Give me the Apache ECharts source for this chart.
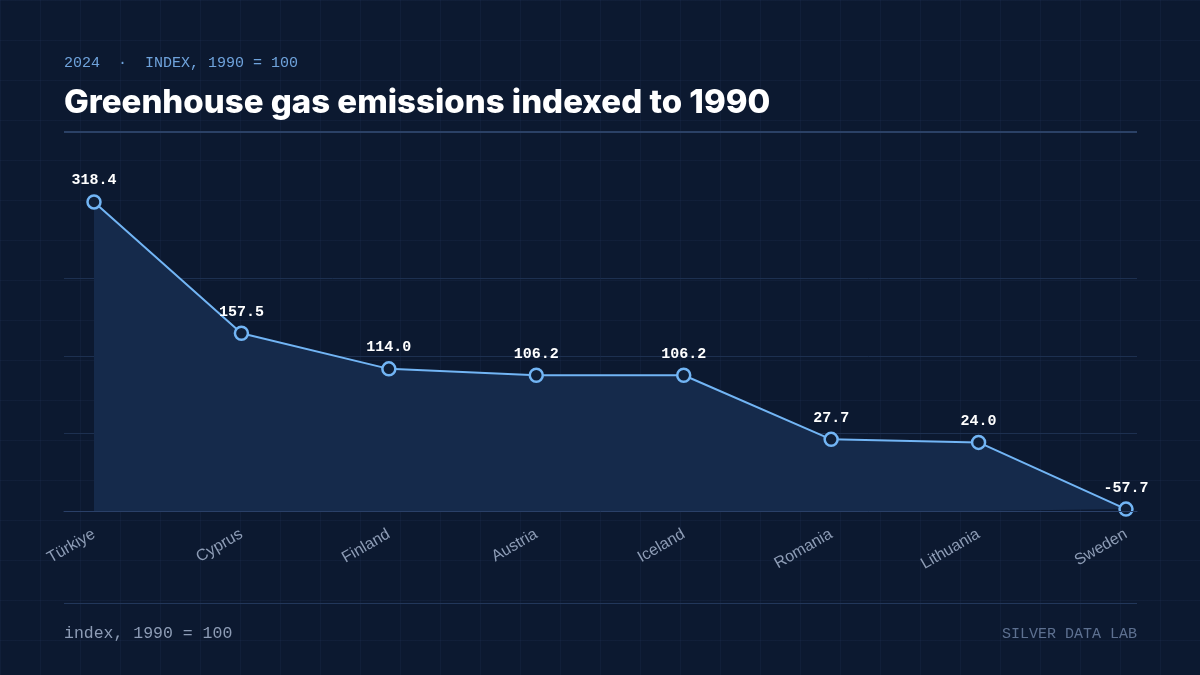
<!DOCTYPE html>
<html>
<head>
<meta charset="utf-8">
<script src="https://cdn.jsdelivr.net/npm/echarts@6/dist/echarts.min.js"></script>
<style>
  html, body { margin: 0; padding: 0; }
  body {
    width: 1200px; height: 675px; overflow: hidden;
    background-color: #0c1930;
    background-image:
      linear-gradient(to right, rgba(40,62,100,0.18) 1px, transparent 1px),
      linear-gradient(to bottom, rgba(40,62,100,0.18) 1px, transparent 1px);
    background-size: 40px 40px;
    background-position: 0 0;
  }
  #chart { width: 1200px; height: 675px; }
</style>
</head>
<body>
<div id="chart"></div>
<script>
const categories = ['Türkiye', 'Cyprus', 'Finland', 'Austria', 'Iceland', 'Romania', 'Lithuania', 'Sweden'];
const values = [318.4, 157.5, 114.0, 106.2, 106.2, 27.7, 24.0, -57.7];
const kicker = '2024  ·  INDEX, 1990 = 100';
const heading = 'Greenhouse gas emissions indexed to 1990';
const footNote = 'index, 1990 = 100';
const credit = 'SILVER DATA LAB';

const chart = echarts.init(document.getElementById('chart'), null, { renderer: 'canvas' });

const option = {
  backgroundColor: 'transparent',
  animation: false,
  title: [
    {
      text: kicker, left: 64, top: 56, padding: 0,
      textStyle: { fontFamily: 'Liberation Mono', fontSize: 15, fontWeight: 'normal', color: '#6fa3dc' }
    },
    {
      text: heading, left: 64, top: 87, padding: 0,
      textStyle: { fontFamily: 'Inter', fontSize: 33, fontWeight: 800, color: '#ffffff' }
    }
  ],
  graphic: [
    { type: 'rect', shape: { x: 64, y: 131, width: 1073, height: 2 }, style: { fill: '#2b4166' }, silent: true },
    { type: 'rect', shape: { x: 64, y: 603, width: 1073, height: 1 }, style: { fill: '#22375a' }, silent: true },
    { type: 'text', left: 64, top: 625, style: { text: footNote, font: '16.5px "Liberation Mono"', fill: '#8d9cb5' } },
    { type: 'text', right: 63, top: 627, style: { text: credit, font: '15px "Liberation Mono"', fill: '#5d7090' } }
  ],
  grid: [
    { left: 94, right: 74, top: 201, bottom: 164 },
    { left: 64, right: 63, top: 201, bottom: 164 }
  ],
  xAxis: [
    {
      type: 'category', gridIndex: 0, data: categories, boundaryGap: false,
      axisLine: { show: false }, axisTick: { show: false }, splitLine: { show: false },
      axisLabel: { rotate: 30, margin: 22, color: '#8d9cb5', fontFamily: 'Liberation Sans', fontSize: 16 }
    },
    {
      type: 'value', gridIndex: 1, min: 0, max: 1, z: 5,
      axisLine: { show: true, lineStyle: { color: '#2a4068', width: 1 } },
      axisTick: { show: false }, axisLabel: { show: false }, splitLine: { show: false }
    }
  ],
  yAxis: [
    {
      type: 'value', gridIndex: 0, min: -60, max: 319.5,
      axisLine: { show: false }, axisTick: { show: false }, axisLabel: { show: false }, splitLine: { show: false }
    },
    {
      type: 'value', gridIndex: 1, min: 0, max: 4, interval: 1,
      axisLine: { show: false }, axisTick: { show: false }, axisLabel: { show: false },
      splitLine: { show: true, showMinLine: false, showMaxLine: false, lineStyle: { color: '#1d3050', width: 1 } }
    }
  ],
  series: [
    {
      type: 'line', xAxisIndex: 0, yAxisIndex: 0, data: values, z: 3,
      symbol: 'circle', symbolSize: 13, showAllSymbol: true,
      lineStyle: { color: '#72b5f5', width: 2 },
      itemStyle: { color: '#0f1f38', borderColor: '#72b5f5', borderWidth: 2.5 },
      areaStyle: { color: '#152a4b', opacity: 1, origin: 'start' },
      label: {
        show: true, position: 'top', distance: 6,
        color: '#ffffff', fontFamily: 'Liberation Mono', fontWeight: 'bold', fontSize: 15,
        formatter: p => p.value.toFixed(1)
      }
    }
  ]
};
chart.setOption(option);
</script>
</body>
</html>
